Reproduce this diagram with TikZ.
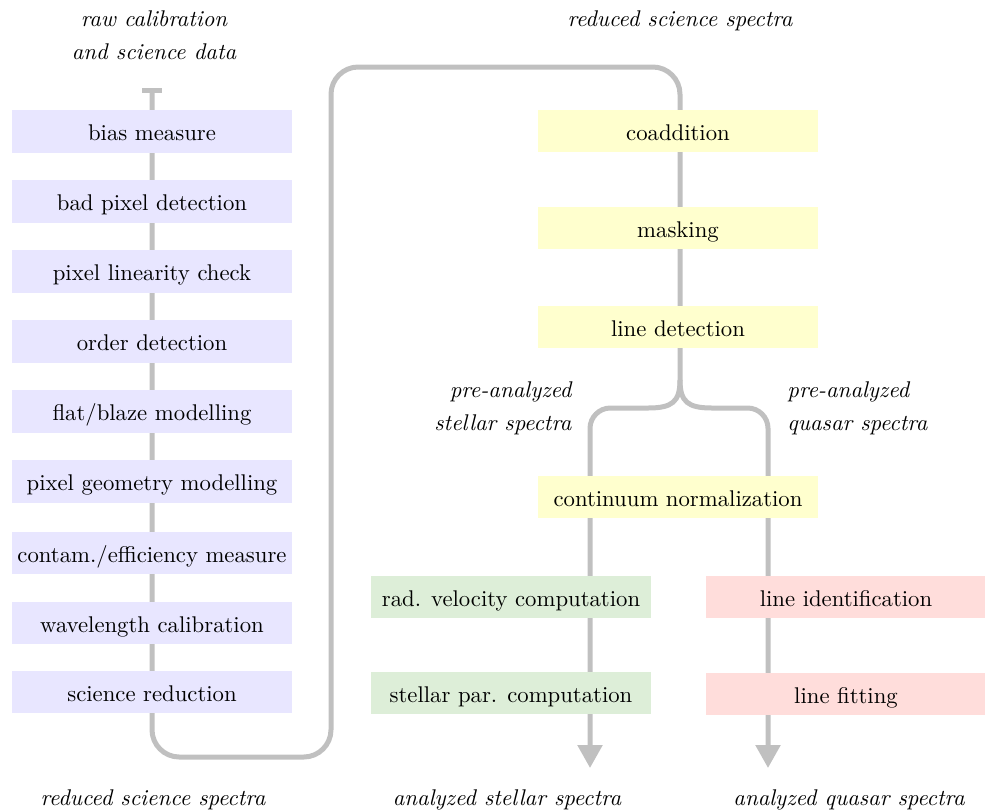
\documentclass[tikz,border=0pt]{standalone}
\usetikzlibrary{arrows.meta,backgrounds}
\definecolor{flowgray}{RGB}{192,192,192}
\definecolor{lav}{RGB}{232,230,255}
\definecolor{ylw}{RGB}{255,255,206}
\definecolor{grn}{RGB}{221,238,216}
\definecolor{rdd}{RGB}{255,221,219}
\begin{document}
\begin{tikzpicture}[x=0.44pt,y=-0.44pt,
  box/.style={minimum width=123.2pt,minimum height=18.5pt,inner sep=0pt,text height=8.1pt,text depth=0pt},
  calib/.style={box,fill=lav},
  red/.style={box,fill=ylw},
  stel/.style={box,fill=grn},
  quas/.style={box,fill=rdd},
  flow/.style={draw=flowgray,line width=2.2pt},
  lbl/.style={font=\itshape,inner sep=0pt}]
\useasboundingbox (0,0) rectangle (985,811);
% left column
\node[calib] (b1) at (152,131.5) {bias measure};
\node[calib] (b2) at (152,201.5) {bad pixel detection};
\node[calib] (b3) at (152,271.5) {pixel linearity check};
\node[calib] (b4) at (152,341.5) {order detection};
\node[calib] (b5) at (152,411.5) {flat/blaze modelling};
\node[calib] (b6) at (152,481.5) {pixel geometry modelling};
\node[calib] (b7) at (152,553) {contam./efficiency measure};
\node[calib] (b8) at (152,623) {wavelength calibration};
\node[calib] (b9) at (152,692) {science reduction};
% right column
\node[red] (coadd) at (678,131) {coaddition};
\node[red] (mask) at (678,228) {masking};
\node[red] (ldet) at (678,327) {line detection};
\node[red] (cont) at (678,497) {continuum normalization};
\node[stel] (rv) at (511,597) {rad. velocity computation};
\node[stel] (sp) at (511,693) {stellar par. computation};
\node[quas] (lid) at (846,597) {line identification};
\node[quas] (lfit) at (846,694) {line fitting};
% labels
\node[lbl,align=center] (raw) at (154,35) {raw calibration\\[2.6pt]and science data};
\node[lbl] (rtop) at (680,21) {reduced science spectra};
\node[lbl,align=right,anchor=east] (pas) at (572,408) {pre-analyzed\\[2.6pt]stellar spectra};
\node[lbl,align=left,anchor=west] (paq) at (787,408) {pre-analyzed\\[2.6pt]quasar spectra};
\node[lbl] (rbot) at (153,800) {reduced science spectra};
\node[lbl] (ass) at (507,800) {analyzed stellar spectra};
\node[lbl] (aqs) at (849,800) {analyzed quasar spectra};
% coordinates
\coordinate (cap) at (152,88);
\coordinate (split) at (680,380);
\coordinate (endS) at (590,768);
\coordinate (endQ) at (768,768);
\begin{scope}[on background layer]
\draw[flow,rounded corners=12pt,{Bar[width=8.8pt]}-] (cap) -- (152,757) -- (331,757) -- (331,67) -- (680,67) -- (split);
\draw[flow,-{Triangle[width=10.6pt,length=10.1pt]}] (split) .. controls (680,402) and (672,408) .. (648,408) [rounded corners=9pt] -- (590,408) [sharp corners] -- (endS);
\draw[flow,-{Triangle[width=10.6pt,length=10.1pt]}] (split) .. controls (680,402) and (688,408) .. (712,408) [rounded corners=9pt] -- (768,408) [sharp corners] -- (endQ);
\end{scope}
\end{tikzpicture}
\end{document}
